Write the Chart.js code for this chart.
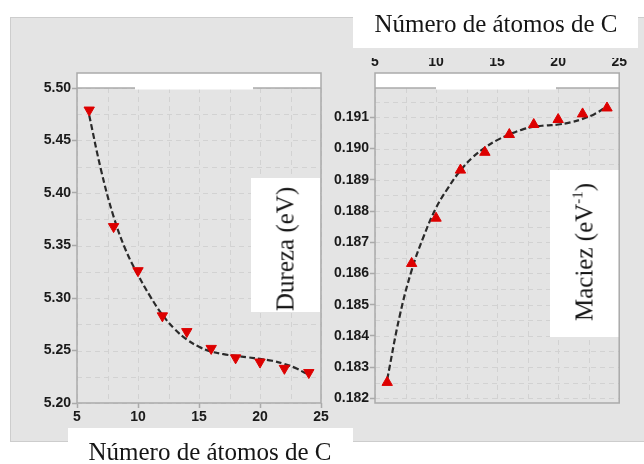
<!DOCTYPE html>
<html><head><meta charset="utf-8">
<script src="https://cdn.jsdelivr.net/npm/chart.js@4.4.1/dist/chart.umd.min.js"></script>
<style>
html,body{margin:0;padding:0;background:#fff;width:644px;height:464px;overflow:hidden;position:relative;}
#bg{position:absolute;left:10px;top:17px;width:634px;height:425px;background:#e4e4e4;border-left:1px solid #cdcdcd;border-top:1px solid #cdcdcd;border-bottom:1px solid #cdcdcd;box-sizing:border-box;}
.wbox{position:absolute;background:#fff;}
.ttl{position:absolute;font-family:"Liberation Serif","Times New Roman",serif;font-size:25px;color:#151515;white-space:nowrap;line-height:1;}
.rot{transform:translate(-50%,-50%) rotate(-90deg);}
.ttl sup{font-size:15px;vertical-align:10px;line-height:0;}
canvas{position:absolute;left:0;top:0;}
</style></head><body>
<div id="bg"></div>
<div class="wbox" style="left:353px;top:0;width:285px;height:48px"></div>
<div class="wbox" style="left:68px;top:428px;width:285px;height:36px"></div>
<canvas id="c1" width="644" height="464"></canvas>
<canvas id="c2" width="644" height="464"></canvas>
<div class="ttl" style="left:496px;top:11px;transform:translateX(-50%)">Número de átomos de C</div>
<div class="ttl" style="left:210px;top:439px;transform:translateX(-50%)">Número de átomos de C</div>
<div class="ttl rot" style="left:285px;top:249px">Dureza (eV)</div>
<div class="ttl rot" style="left:584px;top:252px">Maciez (eV<sup>-1</sup>)</div>
<script>
// ---- data ----
const carbonAtoms = [6, 8, 10, 12, 14, 16, 18, 20, 22, 24];
const hardness = [5.479, 5.368, 5.326, 5.283, 5.268, 5.252, 5.243, 5.239, 5.233, 5.229];
const softness = [0.18251, 0.18632, 0.18777, 0.18931, 0.18988, 0.19045, 0.19077, 0.19093, 0.19111, 0.19130];
const fitAtoms = [6, 7, 8, 9, 10, 11, 12, 13, 14, 15, 16, 17, 18, 19, 20, 21, 22, 23, 24];
const hardnessFit = [5.474, 5.4205, 5.3775, 5.3455, 5.322, 5.3015, 5.284, 5.2705, 5.2605, 5.2535, 5.249, 5.2465, 5.2448, 5.2435, 5.242, 5.2402, 5.2372, 5.2328, 5.2265];
const softnessFit = [0.1826, 0.1846, 0.1861, 0.1872, 0.1881, 0.18875, 0.1893, 0.18972, 0.19003, 0.19027, 0.19045, 0.1906, 0.1907, 0.19074, 0.19077, 0.19084, 0.19095, 0.19111, 0.19135];
const xTicks = [5, 7.5, 10, 12.5, 15, 17.5, 20, 22.5, 25];
const hardnessTicks = [5.200, 5.225, 5.250, 5.275, 5.300, 5.325, 5.350, 5.375, 5.400, 5.425, 5.450, 5.475, 5.500];
const softnessTicks = [0.1820, 0.1825, 0.1830, 0.1835, 0.1840, 0.1845, 0.1850, 0.1855, 0.1860, 0.1865, 0.1870, 0.1875, 0.1880, 0.1885, 0.1890, 0.1895, 0.1900, 0.1905, 0.1910, 0.1915];

const FRAME = '#aaaaaa';
const GRID = '#d2d2d2';
const TICKFONT = {family: '"Liberation Sans", Arial, sans-serif', size: 14, weight: 'bold'};

const panelPlugin = {
  id: 'panel',
  beforeDatasetsDraw(chart, args, o) {
    const {ctx, chartArea: a} = chart;
    const xs = chart.scales.x, ys = chart.scales.y;
    ctx.save();
    // dashed grid
    ctx.strokeStyle = GRID;
    ctx.lineWidth = 1;
    ctx.setLineDash([5, 4]);
    xs.ticks.forEach(t => {
      const px = Math.round(xs.getPixelForValue(t.value)) + 0.5;
      ctx.beginPath(); ctx.moveTo(px, a.top); ctx.lineTo(px, a.bottom); ctx.stroke();
    });
    ys.ticks.forEach(t => {
      const py = Math.round(ys.getPixelForValue(t.value)) + 0.5;
      ctx.beginPath(); ctx.moveTo(a.left, py); ctx.lineTo(a.right, py); ctx.stroke();
    });
    ctx.setLineDash([]);
    // top strip
    ctx.fillStyle = '#fff';
    ctx.fillRect(a.left, a.top - 15, a.right - a.left, 15);
    // label box
    ctx.fillRect(o.box[0], o.box[1], o.box[2], o.box[3]);
    ctx.strokeStyle = FRAME;
    ctx.lineWidth = 1.5;
    ctx.strokeRect(a.left, a.top - 15, a.right - a.left, a.bottom - a.top + 15);
    ctx.beginPath();
    ctx.moveTo(a.left, a.top); ctx.lineTo(a.right, a.top);
    ctx.stroke();
    // gap in the strip base line
    ctx.fillStyle = '#fff';
    ctx.fillRect(o.gap[0], a.top - 14, o.gap[1] - o.gap[0], 15.5);
    ctx.restore();
  }
};

function makeChart(id, cfg) {
  return new Chart(document.getElementById(id), {
    type: 'line',
    data: {
      datasets: [
        {
          data: carbonAtoms.map((x, i) => ({x, y: cfg.values[i]})),
          showLine: false,
          pointStyle: 'triangle',
          rotation: cfg.rot,
          radius: 6,
          pointBackgroundColor: '#dd0000',
          pointBorderColor: '#dd0000',
          pointBorderWidth: 1,
          order: 0
        },
        {
          data: fitAtoms.map((x, i) => ({x, y: cfg.fit[i]})),
          borderColor: '#2a2a2a',
          borderWidth: 2.2,
          borderDash: [6, 3],
          pointRadius: 0,
          tension: 0.4,
          fill: false,
          order: 1
        }
      ]
    },
    options: {
      responsive: false,
      animation: false,
      events: [],
      layout: {padding: cfg.padding},
      plugins: {legend: {display: false}, tooltip: {enabled: false}, panel: {box: cfg.box, gap: cfg.gap}},
      scales: {
        x: {
          type: 'linear',
          position: cfg.xPos,
          min: 5, max: 25,
          afterBuildTicks: (s) => { s.ticks = xTicks.map(v => ({value: v})); },
          afterFit: (s) => { s.height = 30; },
          ticks: {
            font: TICKFONT, color: '#1a1a1a', padding: cfg.xPad, maxRotation: 0, autoSkip: false,
            callback: (v) => (v % 5 === 0 ? String(v) : '')
          },
          grid: {
            drawOnChartArea: false, drawTicks: cfg.xPos === 'bottom', tickLength: 5,
            color: FRAME,
            tickColor: (c) => (c.tick && c.tick.value % 5 === 0 ? FRAME : 'rgba(0,0,0,0)'), tickWidth: 1.5
          },
          border: {display: false}
        },
        y: {
          type: 'linear',
          min: cfg.yMin, max: cfg.yMax,
          afterBuildTicks: (s) => { s.ticks = cfg.yTicks.map(v => ({value: v})); },
          afterFit: (s) => { s.width = cfg.yWidth; },
          ticks: {
            font: TICKFONT, color: '#1a1a1a', padding: 1, autoSkip: false,
            callback: (v, i) => (i % 2 === 0 ? v.toFixed(cfg.dec) : '')
          },
          grid: {
            drawOnChartArea: false, drawTicks: true, tickLength: 5,
            color: FRAME,
            tickColor: (c) => (c.index % 2 === 0 ? FRAME : 'rgba(0,0,0,0)'), tickWidth: 1.5
          },
          border: {display: false}
        }
      }
    },
    plugins: [panelPlugin]
  });
}

makeChart('c1', {
  values: hardness, fit: hardnessFit, rot: 180,
  yTicks: hardnessTicks, yMin: 5.2, yMax: 5.5, dec: 2, yWidth: 77,
  xPos: 'bottom', xPad: 1,
  padding: {left: 0, top: 88, right: 323, bottom: 31},
  box: [251, 178, 69, 134], gap: [135, 253]
});
makeChart('c2', {
  values: softness, fit: softnessFit, rot: 0,
  yTicks: softnessTicks, yMin: 0.18185, yMax: 0.19194, dec: 3, yWidth: 75,
  xPos: 'top', xPad: 17,
  padding: {left: 300, top: 58, right: 24, bottom: 61},
  box: [550, 170, 69, 167], gap: [436, 556]
});
</script>
</body></html>
